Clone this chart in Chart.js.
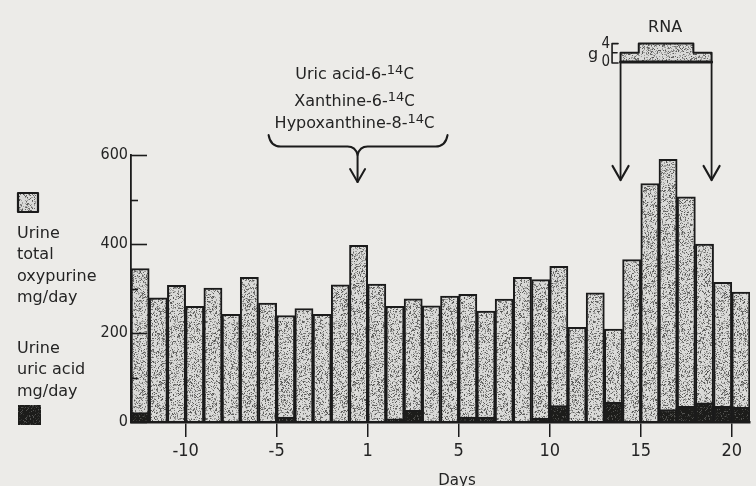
<!DOCTYPE html>
<html>
<head>
<meta charset="utf-8">
<script src="https://cdn.jsdelivr.net/npm/chart.js@4/dist/chart.umd.min.js"></script>
<style>
  html, body { margin: 0; padding: 0; background: #ecebe8; }
  #wrap { width: 756px; height: 486px; position: relative; }
</style>
</head>
<body>
<div id="wrap"><canvas id="c" width="756" height="486"></canvas></div>
<script>
// ---------------- data ----------------
const days = [-13,-12,-11,-10,-9,-8,-7,-6,-5,-4,-3,-2,-1,1,2,3,4,5,6,7,8,9,10,11,12,13,14,15,16,17,18,19,20,21];
const totalOxypurine = [345,279,307,260,301,242,325,267,239,255,242,308,397,310,260,277,261,283,287,249,276,325,320,350,213,290,209,365,536,590,506,400,314,292];
const uricAcid       = [21,0,0,0,0,0,0,0,11,0,0,0,0,0,7,26,0,0,11,11,0,0,9,37,0,0,44,0,0,28,35,43,35,33];
const dayTickLabels = ['-10','-5','1','5','10','15','20'];
const dayTickBars   = [3,8,13,18,23,28,33];      // tick sits at the left edge of this bar
const yTickLabels   = [0,200,400,600];
const rnaDoseG      = [2,4,4,4,2];               // g per day
const rnaFirstBar   = 27;
const rnaScaleLabels = ['4','0'];
const isotopeBar    = 12;
const isotopeLines  = [['Uric acid-6-','14','C'],['Xanthine-6-','14','C'],['Hypoxanthine-8-','14','C']];
const legendTotal   = ['Urine','total','oxypurine','mg/day'];
const legendUric    = ['Urine','uric acid','mg/day'];
const xTitle = 'Days';

// ---------------- styles ----------------
const INK = '#1b1b1b';
const TEXT = '#242424';
const PAPER = '#ecebe8';
const NUMFONT = "'Liberation Sans Narrow', 'DejaVu Sans Condensed', 'Liberation Sans', sans-serif";
const TXTFONT = "'DejaVu Sans', 'Liberation Sans', sans-serif";

function makePattern(kind) {
  const n = 97;
  const c = document.createElement('canvas'); c.width = c.height = n;
  const g = c.getContext('2d');
  const img = g.createImageData(n, n);
  let s = kind === 'dark' ? 98765 : 24681;
  const rnd = () => { s = (s * 1103515245 + 12345) & 0x7fffffff; return s / 0x7fffffff; };
  for (let i = 0; i < n * n; i++) {
    const r = rnd();
    let v;
    if (kind === 'dark') {
      v = r < 0.08 ? 80 : (r < 0.2 ? 50 : 28);
    } else {
      v = r < 0.16 ? 80 + 40 * rnd() : (r < 0.34 ? 158 : 212 + 10 * rnd());
    }
    img.data[i*4] = v; img.data[i*4+1] = v; img.data[i*4+2] = v - 2; img.data[i*4+3] = 255;
  }
  g.putImageData(img, 0, 0);
  return g.createPattern(c, 'repeat');
}
const ctx = document.getElementById('c').getContext('2d');
const stipple = makePattern('light');
const darkFill = makePattern('dark');

// ---------------- decorations plugin ----------------
function drawText14(g, parts, cx, baseline) {
  g.font = '16px ' + TXTFONT;
  const w0 = g.measureText(parts[0]).width;
  g.font = '13px ' + TXTFONT;
  const w1 = g.measureText(parts[1]).width;
  g.font = '15px ' + TXTFONT;
  const w2 = g.measureText(parts[2]).width;
  let x = cx - (w0 + w1 + w2) / 2;
  g.textAlign = 'left'; g.textBaseline = 'alphabetic'; g.fillStyle = TEXT;
  g.font = '16px ' + TXTFONT; g.fillText(parts[0], x, baseline); x += w0;
  g.font = '13px ' + TXTFONT; g.fillText(parts[1], x, baseline - 5); x += w1;
  g.font = '15px ' + TXTFONT; g.fillText(parts[2], x, baseline);
}

const deco = {
  id: 'deco',
  beforeDraw(chart) {
    const g = chart.ctx;
    g.save(); g.fillStyle = PAPER; g.fillRect(0, 0, chart.width, chart.height); g.restore();
  },
  afterDatasetsDraw(chart) {
    const g = chart.ctx, y = chart.scales.y, x = chart.scales.x;
    g.save();
    g.strokeStyle = INK; g.lineWidth = 1.6;
    y.ticks.forEach(t => {
      const py = Math.round(y.getPixelForValue(t.value)) + 0.5;
      const len = yTickLabels.includes(t.value) ? 16 : 7;
      g.beginPath(); g.moveTo(x.left, py); g.lineTo(x.left + len, py); g.stroke();
    });
    g.restore();
  },
  afterDraw(chart) {
    const g = chart.ctx, x = chart.scales.x;
    g.save();
    g.strokeStyle = INK; g.fillStyle = TEXT; g.lineWidth = 2; g.lineCap = 'round'; g.lineJoin = 'round';

    // ---- isotope annotation ----
    const ax = x.getPixelForValue(isotopeBar + 0.5) - 1;
    const baselines = [79, 106, 127.5];
    isotopeLines.forEach((p, i) => drawText14(g, p, ax - 3, baselines[i]));
    const bl = ax - 89, br = ax + 90, by = 146.5, bt = 135, tip = 155;
    g.beginPath();
    g.moveTo(bl, bt);
    g.quadraticCurveTo(bl + 2, by, bl + 12, by);
    g.lineTo(ax - 10, by);
    g.quadraticCurveTo(ax - 2, by, ax, tip);
    g.quadraticCurveTo(ax + 2, by, ax + 10, by);
    g.lineTo(br - 12, by);
    g.quadraticCurveTo(br - 2, by, br, bt);
    g.stroke();
    g.beginPath(); g.moveTo(ax, tip); g.lineTo(ax, 182); g.stroke();
    g.beginPath(); g.moveTo(ax - 7.5, 169); g.lineTo(ax, 182); g.lineTo(ax + 7.5, 169); g.stroke();

    // ---- RNA dose panel ----
    const gy0 = 62, gpx = 4.6;
    const xl = x.getPixelForValue(rnaFirstBar) - 2;
    const xr = x.getPixelForValue(rnaFirstBar + rnaDoseG.length) - 2;
    g.beginPath();
    g.moveTo(xl, gy0);
    rnaDoseG.forEach((d, i) => {
      const x0 = x.getPixelForValue(rnaFirstBar + i) - 2;
      const x1 = x.getPixelForValue(rnaFirstBar + i + 1) - 2;
      g.lineTo(x0, gy0 - d * gpx); g.lineTo(x1, gy0 - d * gpx);
    });
    g.lineTo(xr, gy0); g.closePath();
    g.fillStyle = stipple; g.fill();
    g.lineWidth = 2; g.stroke();
    g.lineWidth = 3; g.beginPath(); g.moveTo(xl, gy0); g.lineTo(xr, gy0); g.stroke();
    g.lineWidth = 1.8;
    // arrows down
    [xl, xr].forEach(px => {
      g.beginPath(); g.moveTo(px, gy0); g.lineTo(px, 180); g.stroke();
      g.lineWidth = 2.2;
      g.beginPath(); g.moveTo(px - 8, 166); g.lineTo(px, 180); g.lineTo(px + 8, 166); g.stroke();
      g.lineWidth = 1.8;
    });
    // small gram scale
    const sx = xl - 8.5;
    g.lineWidth = 1.6;
    g.beginPath();
    g.moveTo(sx + 6, gy0 - 4 * gpx); g.lineTo(sx, gy0 - 4 * gpx); g.lineTo(sx, gy0 + 1);
    g.lineTo(sx + 6, gy0 + 1);
    g.moveTo(sx, gy0 - 2 * gpx); g.lineTo(sx + 5, gy0 - 2 * gpx);
    g.stroke();
    g.fillStyle = TEXT;
    g.font = '15px ' + NUMFONT; g.textAlign = 'right'; g.textBaseline = 'alphabetic';
    g.fillText(rnaScaleLabels[0], sx - 2, 48);
    g.fillText(rnaScaleLabels[1], sx - 2, 66);
    g.font = '16px ' + TXTFONT;
    g.fillText('g', sx - 14, 59);
    g.textAlign = 'center';
    g.fillText('RNA', (xl + xr) / 2 - 1, 31.5);

    // ---- left legend ----
    g.textAlign = 'left';
    g.fillStyle = stipple; g.fillRect(18, 193, 20, 19);
    g.strokeStyle = INK; g.lineWidth = 2.2; g.strokeRect(18, 193, 20, 19);
    g.fillStyle = TEXT; g.font = '16px ' + TXTFONT;
    [237.5, 259, 280.5, 302].forEach((b, i) => g.fillText(legendTotal[i], 17, b));
    [352.5, 374, 395.5].forEach((b, i) => g.fillText(legendUric[i], 17, b));
    g.fillStyle = darkFill; g.fillRect(18, 405, 23, 20);

    // ---- axis title ----
    g.fillStyle = TEXT; g.font = '15px ' + TXTFONT; g.textAlign = 'center';
    g.fillText(xTitle, 457, 484.5);
    g.restore();
  }
};

// ---------------- chart ----------------
const N = totalOxypurine.length;
new Chart(ctx, {
  type: 'bar',
  data: {
    labels: days,
    datasets: [
      {
        label: 'Urine uric acid mg/day',
        data: uricAcid.map((v, i) => ({ x: i + 0.5, y: v })),
        backgroundColor: darkFill, borderColor: INK, borderWidth: 2,
        barPercentage: 1, categoryPercentage: 1, grouped: false, order: 0
      },
      {
        label: 'Urine total oxypurine mg/day',
        data: totalOxypurine.map((v, i) => ({ x: i + 0.5, y: v })),
        backgroundColor: stipple, borderColor: INK, borderWidth: 2,
        barPercentage: 1, categoryPercentage: 1, grouped: false, order: 1
      }
    ]
  },
  options: {
    responsive: false, animation: false,
    layout: { padding: { top: 155, left: 0, right: 6, bottom: 14 } },
    plugins: { legend: { display: false }, tooltip: { enabled: false } },
    scales: {
      x: {
        type: 'linear', min: 0, max: N, offset: false,
        afterBuildTicks: s => { s.ticks = dayTickBars.map(v => ({ value: v })); },
        afterFit: s => { s.height = 50; },
        ticks: {
          autoSkip: false, maxRotation: 0, padding: 4, color: TEXT,
          font: { family: NUMFONT, size: 18 },
          callback: v => { const k = dayTickBars.indexOf(v); return k >= 0 ? dayTickLabels[k] : ''; }
        },
        grid: { display: true, offset: false, drawOnChartArea: false, drawTicks: true, tickLength: 15, color: INK, lineWidth: 1.5 },
        border: { display: true, color: INK, width: 2.5, z: 1 }
      },
      y: {
        min: 0, max: 600,
        afterFit: s => { s.width = 131; },
        ticks: {
          stepSize: 100, autoSkip: false, padding: 3, color: TEXT,
          font: { family: NUMFONT, size: 16 },
          callback: v => yTickLabels.includes(v) ? String(v) : ''
        },
        grid: { display: false, drawTicks: false },
        border: { display: true, color: INK, width: 1.8, z: 1 }
      }
    }
  },
  plugins: [deco]
});
</script>
</body>
</html>
